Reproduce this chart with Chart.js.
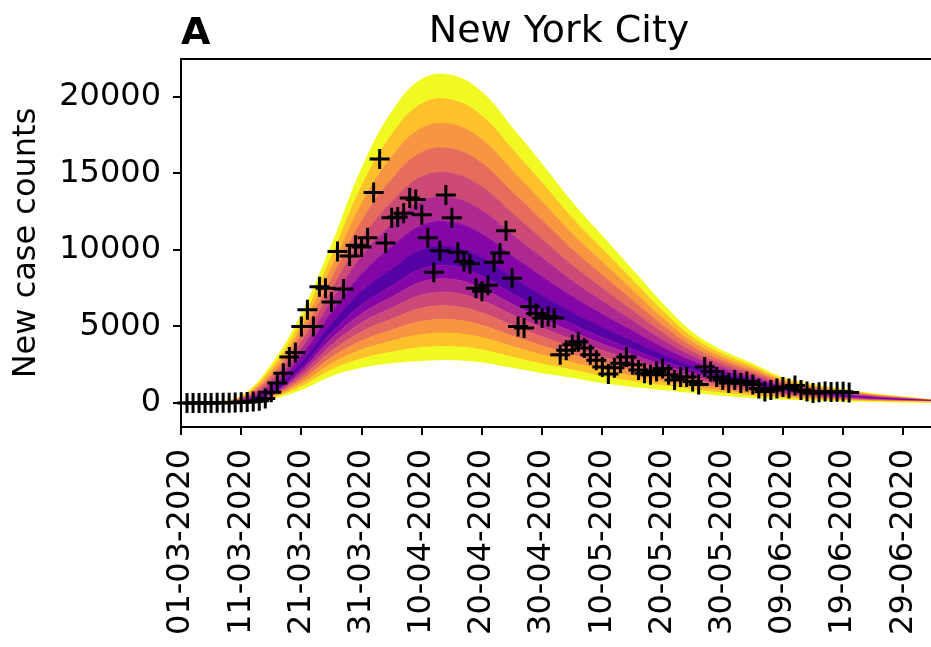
<!DOCTYPE html>
<html>
<head>
<meta charset="utf-8">
<script src="https://cdn.jsdelivr.net/npm/chart.js@4.4.0/dist/chart.umd.min.js"></script>
<style>
  html, body { margin: 0; padding: 0; background: #fff; }
  #wrap { width: 931px; height: 647px; }
</style>
</head>
<body>
<div id="wrap"><canvas id="nycChart"></canvas></div>
<script>
// reported daily new cases, day 1 = 02-03-2020
const firstDay = 1;
const newCases = [
  0, 0, 0, 0, 0, 10, 10, 20, 30, 40,
  60, 90, 150, 300, 700, 1300, 1950, 3000, 3300, 5000,
  6100, 5000, 7600, 7500, 6600, 9900, 7450, 9600, 10300, 10200,
  10800, 13750, 15950, 10450, 12100, 12150, 12400, 13400, 13300, 12300,
  10800, 8550, 9950, 13600, 12100, 9850, 9250, 9100, 7500, 7300,
  7700, 9200, 9800, 11250, 8150, 5000, 4900, 6300, 5850, 5550,
  5650, 5550, 3150, 3450, 3800, 4000, 3600, 3150, 2800, 2350,
  1900, 2300, 2600, 3000, 2500, 2150, 1950, 1850, 2050, 2250,
  1850, 1500, 1700, 1700, 1400, 1200, 2350, 2050, 1700, 1500,
  1300, 1500, 1300, 1400, 1200, 950, 750, 850, 950, 1050,
  950, 1150, 850, 750, 650, 700, 750, 720, 740, 730,
  680
];

// model fan: sampled every 5 days from 01-03-2020
const fanDays   = [0, 5, 10, 15, 20, 25, 30, 35, 40, 45, 50, 55, 60, 65, 70, 75, 80, 85, 90, 95, 100, 105, 110, 115, 120, 125];
const fanUpper  = [0, 80, 450, 2500, 5800, 10300, 15300, 19000, 21150, 21400, 20300, 18000, 15600, 13100, 10900, 8700, 6500, 4600, 3400, 2550, 1650, 1200, 900, 600, 400, 200];
const fanMedian = [0, 10, 80, 650, 2400, 4800, 6700, 8000, 9200, 9400, 8700, 7500, 6400, 5400, 4500, 3700, 2900, 2250, 1750, 1300, 900, 650, 450, 300, 200, 130];
const fanLower  = [0, 0, 40, 250, 850, 1750, 2300, 2600, 2750, 2800, 2650, 2300, 1950, 1650, 1300, 1050, 850, 650, 470, 320, 210, 140, 95, 65, 45, 30];

// plasma shades, centre band outwards
const bandColors = ['#5601a4', '#8406a7', '#ae2892', '#ce4a76', '#e66c5c', '#f89540', '#fdc229', '#f0f921'];

const xTickDays = [0, 10, 20, 30, 40, 50, 60, 70, 80, 90, 100, 110, 120];
const yTicks = [0, 5000, 10000, 15000, 20000];

const FONT = 'DejaVu Sans';

function fmtDate(day) {
  const d = new Date(2020, 2, 1 + day);
  const p = n => String(n).padStart(2, '0');
  return p(d.getDate()) + '-' + p(d.getMonth() + 1) + '-' + d.getFullYear();
}

// band edges, bottom to top: lower side then upper side
const nSide = bandColors.length;
const edges = [];
for (let k = nSide; k >= 1; k--) {
  const f = (k - 0.5) / (nSide - 0.5);
  edges.push({ ci: k - 1, pts: fanDays.map((d, i) => ({ x: d, y: fanMedian[i] - (fanMedian[i] - fanLower[i]) * f })) });
}
for (let k = 1; k <= nSide; k++) {
  const f = (k - 0.5) / (nSide - 0.5);
  edges.push({ ci: k - 1, pts: fanDays.map((d, i) => ({ x: d, y: fanMedian[i] + (fanUpper[i] - fanMedian[i]) * f })) });
}

const datasets = [];
edges.forEach((e, i) => {
  // colour of the band lying between this edge and the one below it
  let c;
  if (i === 0) c = bandColors[nSide - 1];
  else if (i < nSide) c = bandColors[edges[i - 1].ci];
  else if (i === nSide) c = bandColors[0];
  else c = bandColors[e.ci];
  datasets.push({
    type: 'line',
    data: e.pts,
    borderColor: c,
    borderWidth: i === 0 ? 0 : 1,
    backgroundColor: c,
    fill: i === 0 ? false : '-1',
    pointRadius: 0,
    tension: 0.4,
    order: 1
  });
});

datasets.push({
  type: 'scatter',
  data: newCases.map((v, i) => ({ x: firstDay + i, y: v })),
  pointStyle: 'cross',
  pointRadius: 10,
  borderColor: '#000',
  backgroundColor: '#000',
  borderWidth: 3,
  clip: false,
  order: 0
});

// title, panel letter and the top frame line
const frameAndTitle = {
  id: 'frameAndTitle',
  afterDraw(chart) {
    const { ctx, chartArea: a } = chart;
    ctx.save();
    ctx.strokeStyle = '#000';
    ctx.lineWidth = 2;
    ctx.beginPath();
    ctx.moveTo(a.left - 1, a.top);
    ctx.lineTo(a.right, a.top);
    ctx.stroke();
    ctx.fillStyle = '#000';
    ctx.textBaseline = 'alphabetic';
    ctx.font = '38px "' + FONT + '"';
    ctx.textAlign = 'center';
    ctx.fillText('New York City', 559, 42);
    ctx.font = 'bold 38px "' + FONT + '"';
    ctx.textAlign = 'left';
    ctx.fillText('A', 181, 44);
    ctx.restore();
  }
};

const config = {
  type: 'line',
  data: { datasets },
  options: {
    responsive: true,
    maintainAspectRatio: false,
    animation: false,
    layout: { autoPadding: false, padding: { top: 59, right: 0, bottom: 0, left: 0 } },
    plugins: {
      legend: { display: false },
      title: { display: false },
      tooltip: { enabled: false }
    },
    scales: {
      x: {
        type: 'linear',
        min: 0,
        max: 124.6,
        afterBuildTicks: s => { s.ticks = xTickDays.map(v => ({ value: v })); },
        afterFit: s => { s.height = 220; s.paddingLeft = 0; s.paddingRight = 0; },
        ticks: {
          minRotation: 90,
          maxRotation: 90,
          autoSkip: false,
          padding: 14,
          color: '#000',
          font: { family: FONT, size: 32 },
          callback: v => fmtDate(v)
        },
        grid: { drawOnChartArea: false, tickLength: 8, color: '#000', lineWidth: 2 },
        border: { display: true, color: '#000', width: 2 }
      },
      y: {
        min: -1570,
        max: 22480,
        afterBuildTicks: s => { s.ticks = yTicks.map(v => ({ value: v })); },
        afterFit: s => { s.width = 181; s.paddingTop = 0; s.paddingBottom = 0; },
        ticks: {
          padding: 12,
          color: '#000',
          font: { family: FONT, size: 32 },
          callback: v => String(v)
        },
        grid: { drawOnChartArea: false, tickLength: 8, color: '#000', lineWidth: 2 },
        border: { display: true, color: '#000', width: 2 },
        title: {
          display: true,
          text: 'New case counts',
          color: '#000',
          font: { family: FONT, size: 32 },
          padding: { top: 7, bottom: 0 }
        }
      }
    }
  },
  plugins: [frameAndTitle]
};

const nycChart = new Chart(document.getElementById('nycChart'), config);
</script>
</body>
</html>
